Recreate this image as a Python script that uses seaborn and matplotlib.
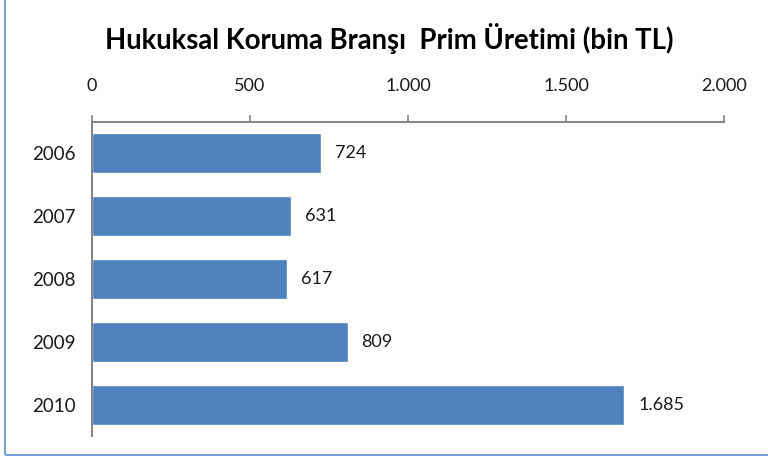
import matplotlib
matplotlib.use("Agg")
import matplotlib.pyplot as plt
from matplotlib.patches import Rectangle
from matplotlib.ticker import FixedLocator, FuncFormatter
import seaborn as sns
import pandas as pd

years = ["2006", "2007", "2008", "2009", "2010"]
premiums = [724, 631, 617, 809, 1685]
x_ticks = [0, 500, 1000, 1500, 2000]

title = "Hukuksal Koruma Branşı  Prim Üretimi (bin TL)"

sns.set_theme(style="white")
plt.rcParams["font.family"] = ["Lato", "DejaVu Sans"]


def tr_fmt(v, _pos=None):
    return f"{int(round(v)):,}".replace(",", ".")


df = pd.DataFrame({"year": years, "premium": premiums})

fig = plt.figure(figsize=(7.68, 4.59), dpi=100)
ax = fig.add_axes([92 / 768, 1 - 436 / 459, 632 / 768, 314 / 459])

sns.barplot(data=df, x="premium", y="year", orient="h", color="#4F81BD",
            saturation=1, width=0.64, ax=ax)

ax.set_xlim(0, 2000)
ax.set_ylim(len(years) - 0.5, -0.5)
ax.xaxis.tick_top()
ax.xaxis.set_major_locator(FixedLocator(x_ticks))
ax.xaxis.set_major_formatter(FuncFormatter(tr_fmt))
ax.tick_params(axis="x", direction="out", length=5, width=1.2, color="#868686",
               pad=15, labelsize=13, labelcolor="#1a1a1a")
ax.set_xlabel("")
ax.set_ylabel("")

# category boundary ticks on the left spine, labels centred between them
ax.set_yticks([i + 0.5 for i in range(-1, len(years))], minor=False)
ax.set_yticklabels([""] * (len(years) + 1))
ax.set_yticks(range(len(years)), minor=True)
ax.set_yticklabels(years, minor=True)
ax.tick_params(axis="y", which="major", direction="out", length=5, width=1.2,
               color="#868686")
ax.tick_params(axis="y", which="minor", length=0, pad=12, labelsize=13.5,
               labelcolor="#1a1a1a")

for side in ("right", "bottom"):
    ax.spines[side].set_visible(False)
for side in ("top", "left"):
    ax.spines[side].set_color("#868686")
    ax.spines[side].set_linewidth(1.5)

for i, v in enumerate(premiums):
    ax.annotate(tr_fmt(v), xy=(v, i), xytext=(10, 0), textcoords="offset points",
                va="center", ha="left", fontsize=13, color="#1a1a1a")

fig.text(389 / 768, 1 - 38 / 459, title, ha="center", va="center",
         fontsize=19.8, fontweight="bold", color="black")

# chart area frame
fig.add_artist(Rectangle((5 / 768, 1 - 455 / 459), 1.0, 1.0,
                         transform=fig.transFigure, fill=False,
                         edgecolor="#7DA3D6", linewidth=1.5))

fig.savefig("out.png", dpi=100)
